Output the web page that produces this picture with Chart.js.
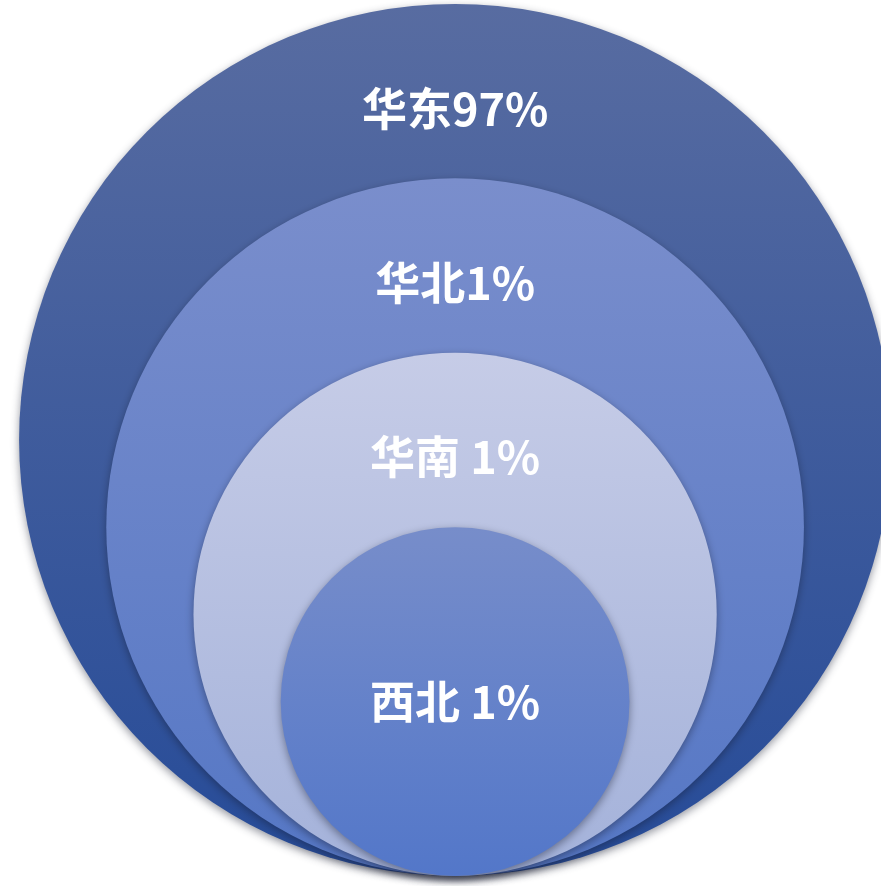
<!DOCTYPE html>
<html>
<head>
<meta charset="utf-8">
<title>区域占比</title>
<script src="https://cdn.jsdelivr.net/npm/chart.js"></script>
<style>
  body { margin: 0; background: #fff; }
  canvas { display: block; }
</style>
</head>
<body>
<canvas id="ringChart" width="881" height="886"></canvas>
<script>
// Data for the chart
const categories = ["华东", "华北", "华南", "西北"];
const shares = [97, 1, 1, 1];
const labelGap = ["", "", " ", " "]; // spacing as in the source labels
const ringRadius = [100, 80, 60, 40]; // nested circles, all resting on the same baseline

// gradient stops per ring (top, bottom)
const ringTop = ["#586ca1", "#7a8ecc", "#c6cce7", "#778dca"];
const ringBottom = ["#264b98", "#5577c5", "#a4b2da", "#5377c9"];

const shadowPlugin = {
  id: "ringShadow",
  beforeDatasetsDraw(chart) {
    const ctx = chart.ctx;
    ctx.save();
    ctx.shadowColor = "rgba(20, 25, 45, 0.45)";
    ctx.shadowBlur = 9;
    ctx.shadowOffsetX = 0;
    ctx.shadowOffsetY = 3;
  },
  afterDatasetsDraw(chart) {
    chart.ctx.restore();
  }
};

const labelPlugin = {
  id: "ringLabels",
  afterDraw(chart) {
    const ctx = chart.ctx;
    const xs = chart.scales.x, ys = chart.scales.y;
    ctx.save();
    ctx.fillStyle = "#ffffff";
    ctx.font = "bold 45px 'Noto Sans CJK SC', 'Noto Sans', sans-serif";
    ctx.textAlign = "center";
    ctx.textBaseline = "middle";
    categories.forEach((c, i) => {
      const last = i === ringRadius.length - 1;
      // label sits in the band between this ring's top and the next ring's top
      const yv = last ? ringRadius[i] : ringRadius[i] + ringRadius[i + 1] - 4;
      ctx.fillText(c + labelGap[i] + shares[i] + "%", xs.getPixelForValue(0), ys.getPixelForValue(yv));
    });
    ctx.restore();
  }
};

const config = {
  type: "bubble",
  data: {
    labels: categories,
    datasets: [{
      data: ringRadius.map(r => ({ x: 0, y: r })),
      borderWidth: 0,
      backgroundColor: (ctx) => {
        const chart = ctx.chart;
        const i = ctx.dataIndex;
        if (!chart.chartArea || !ctx.raw || !ctx.raw.r) return ringBottom[i] || "#5577c5";
        const cy = chart.scales.y.getPixelForValue(ctx.raw.y);
        const r = ctx.raw.r;
        const g = chart.ctx.createLinearGradient(0, cy - r, 0, cy + r);
        g.addColorStop(0, ringTop[i]);
        g.addColorStop(1, ringBottom[i]);
        return g;
      },
      clip: false
    }]
  },
  options: {
    responsive: false,
    animation: false,
    events: [],
    layout: { padding: 0, autoPadding: false },
    plugins: { legend: { display: false }, tooltip: { enabled: false } },
    scales: {
      x: { display: false, min: -104.4, max: 97.7 },
      y: { display: false, min: -2.3, max: 200.9 }
    }
  },
  plugins: [shadowPlugin, labelPlugin]
};

// Create the chart, then size each bubble from the laid-out y scale
const ringChart = new Chart(document.getElementById("ringChart"), config);
const yScale = ringChart.scales.y;
ringChart.data.datasets[0].data = ringRadius.map(r => ({
  x: 0,
  y: r,
  r: yScale.getPixelForValue(0) - yScale.getPixelForValue(r)
}));
ringChart.update();
</script>
</body>
</html>
